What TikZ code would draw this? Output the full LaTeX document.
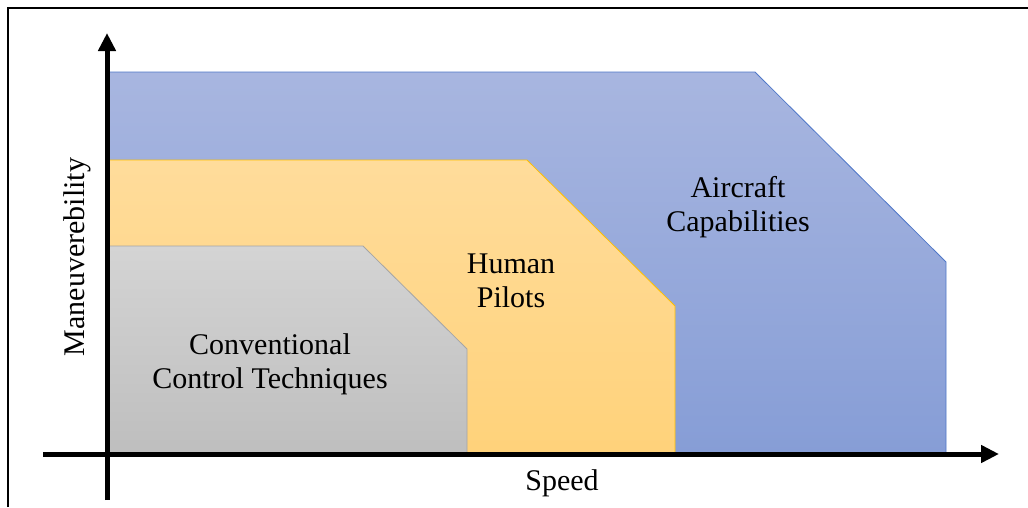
\documentclass[tikz,border=0pt]{standalone}
\usepackage{fontspec}
\setmainfont{Liberation Serif}
\usetikzlibrary{arrows.meta}
\begin{document}
\begin{tikzpicture}[x=1pt,y=-1pt,
  lbl/.style={align=center,font=\fontsize{30}{34}\selectfont,inner sep=0pt},
  axis/.style={line width=5pt,-{Triangle[length=18pt,width=17pt]}}]
\useasboundingbox (0,0) rectangle (1028,507);
\fill[white] (0,0) rectangle (1028,507);
% frame
\draw[line width=2pt] (8,507) -- (8,8) -- (1028,8);
% regions
\shade[top color={rgb,255:red,168;green,182;blue,224},bottom color={rgb,255:red,134;green,157;blue,214}]
  (110,454) -- (110,72) -- (755,72) -- (946,262) -- (946,454) -- cycle;
\draw[color={rgb,255:red,80;green,120;blue,200},line width=0.8pt]
  (110,72) -- (755,72) -- (946,262) -- (946,454);
\shade[top color={rgb,255:red,255;green,220;blue,155},bottom color={rgb,255:red,255;green,210;blue,122}]
  (110,454) -- (110,160) -- (527,160) -- (675,306) -- (675,454) -- cycle;
\draw[color={rgb,255:red,255;green,192;blue,0},line width=0.8pt]
  (110,160) -- (527,160) -- (675,306) -- (675,454);
\shade[top color={rgb,255:red,212;green,212;blue,212},bottom color={rgb,255:red,190;green,190;blue,190}]
  (110,454) -- (110,246) -- (363,246) -- (467,349) -- (467,454) -- cycle;
\draw[color={rgb,255:red,165;green,165;blue,165},line width=0.8pt]
  (110,246) -- (363,246) -- (467,349) -- (467,454);
% axes
\coordinate (yb) at (107,500);
\coordinate (yt) at (107,33);
\coordinate (xl) at (43,454);
\coordinate (xr) at (999,454);
\draw[axis] (yb) -- (yt);
\draw[axis] (xl) -- (xr);
% labels
\node[lbl] (air) at (738,207) {Aircraft\\Capabilities};
\node[lbl] (hum) at (511,281) {Human\\Pilots};
\node[lbl] (conv) at (270,364) {Conventional\\Control Techniques};
\node[lbl] (speed) at (562,483) {Speed};
\node[lbl,rotate=90] (man) at (77,257) {Maneuverebility};
\end{tikzpicture}
\end{document}
